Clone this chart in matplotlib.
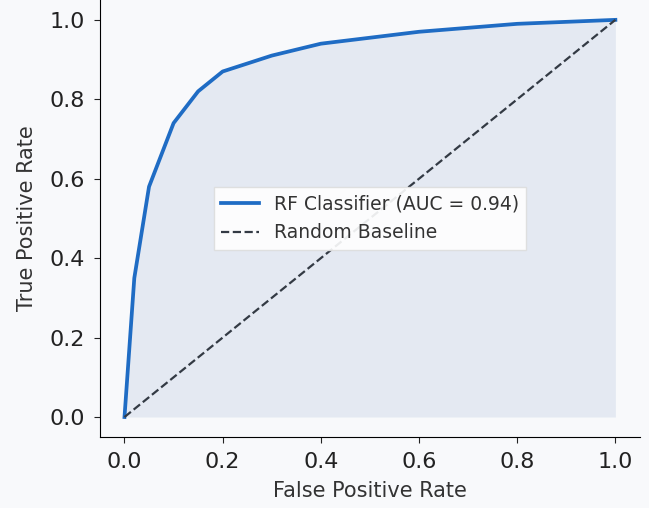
import numpy as np
import matplotlib.pyplot as plt

# ROC curve points
fpr = [0.0, 0.02, 0.05, 0.10, 0.15, 0.20, 0.30, 0.40, 0.60, 0.80, 1.0]
tpr = [0.0, 0.35, 0.58, 0.74, 0.82, 0.87, 0.91, 0.94, 0.97, 0.99, 1.0]
auc = 0.94
baseline = [0.0, 1.0]

bg = '#f8f9fb'
line_color = '#1f6cc4'

fig = plt.figure(figsize=(6.49, 5.08), dpi=100, facecolor=bg)
ax = fig.add_axes([0.154, 0.14, 0.832, 0.86])
ax.set_facecolor(bg)

ax.fill_between(fpr, tpr, 0, color='#9db4d6', alpha=0.22, linewidth=0)
ax.plot(fpr, tpr, color=line_color, linewidth=2.7, label=f'RF Classifier (AUC = {auc:.2f})')
ax.plot(baseline, baseline, color='#333a44', linestyle='--', linewidth=1.6, label='Random Baseline')

ax.set_xlim(-0.05, 1.05)
ax.set_ylim(-0.05, 1.05)
ax.set_xticks(np.arange(0, 1.01, 0.2))
ax.set_yticks(np.arange(0, 1.01, 0.2))
ax.tick_params(labelsize=16, colors='#222222', length=4.5, pad=6.5)
ax.set_xlabel('False Positive Rate', fontsize=15, color='#333333', labelpad=6.5)
ax.set_ylabel('True Positive Rate', fontsize=15, color='#333333', labelpad=8.5)

for side in ['top', 'right']:
    ax.spines[side].set_visible(False)

ax.legend(loc='center', fontsize=13.5, frameon=True, fancybox=False, framealpha=0.9, edgecolor='#dddddd',
          labelcolor='#333333')

plt.savefig('out.png', dpi=100, facecolor=bg)
